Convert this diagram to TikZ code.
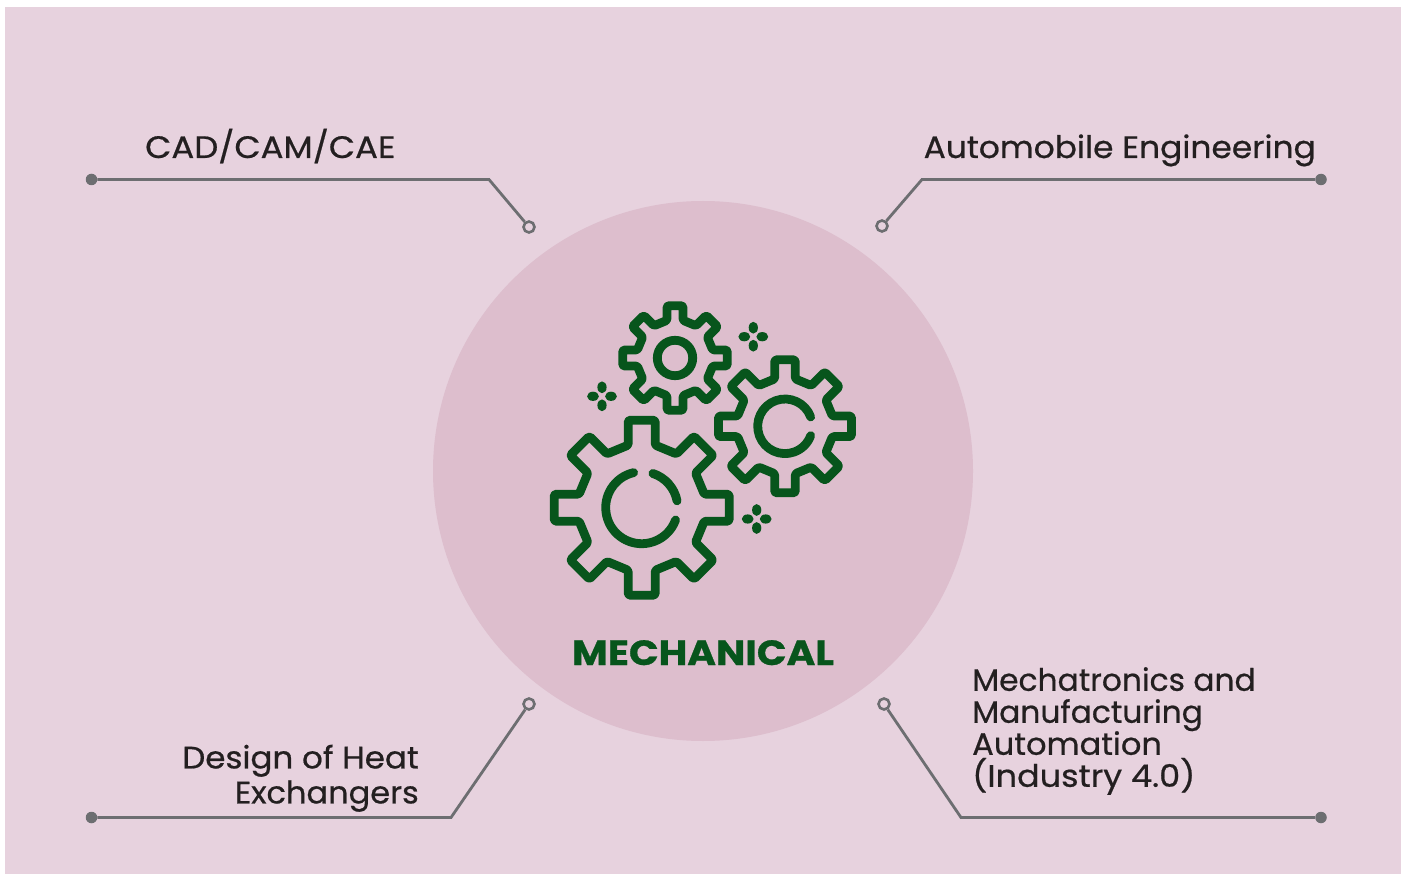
\documentclass[tikz,border=0pt]{standalone}
\usepackage{fontspec}
\usepackage{graphicx}
\setmainfont[FakeBold=0.6]{Poppins}
\usetikzlibrary{calc}
\definecolor{bgpink}{HTML}{E7D2DE}
\definecolor{circpink}{HTML}{DDBECD}
\definecolor{geargreen}{HTML}{07551C}
\definecolor{linegray}{HTML}{6D6E71}
\definecolor{txt}{HTML}{231F20}
\newfontfamily\titlefont[FakeBold=0.8]{Poppins Bold}
\newcommand{\sx}[2]{\scalebox{#1}[1]{#2}}
\tikzset{
  gearline/.style={draw=geargreen,line width=8.8pt,line cap=round,line join=round},
  leader/.style={draw=linegray,line width=2.8pt},
  dotend/.style={circle,fill=linegray,inner sep=0pt,minimum size=11.5pt},
  ringend/.style={circle,draw=linegray,line width=2.6pt,inner sep=0pt,minimum size=11pt},
  lab/.style={text=txt,font=\fontsize{31}{32}\selectfont,inner sep=0pt},
  petal/.style={fill=geargreen,draw=none}
}
\newcommand{\gearshape}[5]{% cx cy R root hw
  \pgfmathsetmacro{\rr}{sqrt(#3*#3+#5*#5)}
  \pgfmathsetmacro{\ao}{atan(#5/#3)}
  \pgfmathsetmacro{\ar}{asin(#5/#4)}
  \draw[gearline,rounded corners=1.5pt] (#1,#2) ++(-22.5:{#4*cos(22.5-\ar)})
    \foreach \a in {0,45,...,315}{
      -- ($(#1,#2)+({\a-\ar}:#4)$)
      -- ($(#1,#2)+({\a-\ao}:\rr)$)
      -- ($(#1,#2)+({\a+\ao}:\rr)$)
      -- ($(#1,#2)+({\a+\ar}:#4)$)
    } -- cycle;
}
\newcommand{\sparkle}[2]{%
  \fill[petal] (#1,#2-9) ellipse[x radius=4.6,y radius=5.9];
  \fill[petal] (#1,#2+9) ellipse[x radius=4.6,y radius=5.9];
  \fill[petal] (#1-9,#2) ellipse[x radius=5.9,y radius=4.6];
  \fill[petal] (#1+9,#2) ellipse[x radius=5.9,y radius=4.6];
}
\begin{document}
\begin{tikzpicture}[x=1pt,y=-1pt]
\useasboundingbox (0,0) rectangle (1403,874);
\fill[bgpink] (5,7) rectangle (1401,874);
\node[circle,fill=circpink,minimum size=540pt,inner sep=0pt] (hub) at (703,471) {};

\gearshape{641.7}{507.7}{87.5}{64}{13.5}
\gearshape{785}{426.3}{66.5}{48.5}{10.3}
\gearshape{675}{358}{52.3}{38.5}{8}
\draw[gearline] (675,358) circle[radius=17.7];
\draw[gearline] ($(785,426.3)+(-20:27.3)$) arc[start angle=-20,end angle=-340,radius=27.3];
\draw[gearline] ($(641.7,507.7)+(-103:36)$) arc[start angle=-103,end angle=-340,radius=36];
\draw[gearline] ($(641.7,507.7)+(-72:36)$) arc[start angle=-72,end angle=-11,radius=36];
\sparkle{753.3}{336.7}
\sparkle{602}{396.3}
\sparkle{756.7}{519}

\node[text=geargreen,inner sep=0pt,anchor=base,font=\fontsize{35}{35}\titlefont] (title) at (703,665) {\sx{1.115}{MECHANICAL}};

\node[dotend] (d1) at (91.5,179.5) {};
\node[ringend] (r1) at (529,227) {};
\coordinate (k1) at (489,179.5);
\draw[leader] (d1) -- (k1) -- (r1);
\node[dotend] (d2) at (1321,179.5) {};
\node[ringend] (r2) at (882,226) {};
\coordinate (k2) at (922,179.5);
\draw[leader] (d2) -- (k2) -- (r2);
\node[dotend] (d3) at (91.5,817.5) {};
\node[ringend] (r3) at (529,704) {};
\coordinate (k3) at (451,817.5);
\draw[leader] (d3) -- (k3) -- (r3);
\node[dotend] (d4) at (1321,817.5) {};
\node[ringend] (r4) at (884,704) {};
\coordinate (k4) at (961,817.5);
\draw[leader] (d4) -- (k4) -- (r4);

\node[lab,anchor=base west] (t1) at (145,158) {\sx{1.095}{CAD/CAM/CAE}};
\node[lab,anchor=base east] (t2) at (1316,158) {\sx{1.06}{Automobile Engineering}};
\node[lab,anchor=south east,align=right,font=\fontsize{31}{35}\selectfont] (t3) at (419,812) {\sx{1.05}{Design of Heat}\\\sx{1.033}{Exchangers}};
\node[lab,anchor=south west,align=left] (t4) at (972,795) {\sx{1.01}{Mechatronics and}\\\sx{1.01}{Manufacturing}\\\sx{1.035}{Automation}\\\sx{1.08}{(Industry 4.0)}};
\end{tikzpicture}
\end{document}
